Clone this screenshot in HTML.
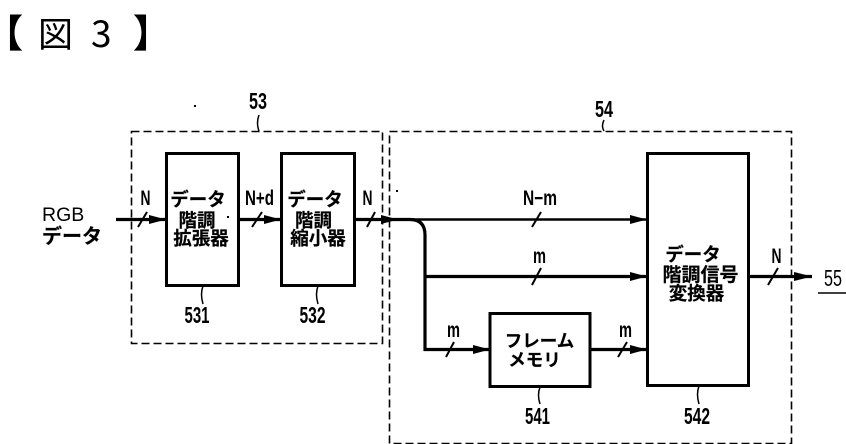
<!DOCTYPE html>
<html><head><meta charset="utf-8"><style>
html,body{margin:0;padding:0;background:#fff;width:846px;height:444px;overflow:hidden}
svg{display:block}
text{fill:#000;font-family:"Liberation Sans","Noto Sans CJK JP",sans-serif}
.j{font-size:18.5px;font-weight:700;text-anchor:middle;font-family:"Noto Sans CJK JP",sans-serif;stroke:#000;stroke-width:.2px}
.l{font-size:21px;font-weight:700;text-anchor:middle}
.n{font-size:23px;font-weight:700;text-anchor:middle}
.h{font-family:"Noto Sans CJK JP",sans-serif}
</style></head><body>
<svg width="846" height="444" viewBox="0 0 846 444" xmlns="http://www.w3.org/2000/svg">
<text class="h" x="-15" y="47" style="font-size:38px;font-weight:900">【</text>
<text class="h" x="38" y="47" style="font-size:35px">図</text>
<text class="h" x="91" y="47" style="font-size:37px">3</text>
<text class="h" x="133" y="47" style="font-size:38px;font-weight:900">】</text>

<g fill="none" stroke="#000">
<rect x="131.5" y="131.5" width="251" height="212" stroke-width="1.6" stroke-dasharray="8 4"/>
<rect x="389.5" y="131.5" width="402" height="312" stroke-width="1.6" stroke-dasharray="8 4"/>
<g stroke-width="3">
<rect x="166.5" y="153.5" width="72" height="132"/>
<rect x="281.5" y="153.5" width="73" height="132"/>
<rect x="647.5" y="153.5" width="101" height="232"/>
<rect x="490" y="313.5" width="100" height="73"/>
</g>
<g stroke-width="3.2">
<path d="M116 219.5H166M238 219.5H281M354 219.5H392"/>
<path d="M392 219.5H410Q425 219.5 425 235V349.5H490" />
<path d="M425 276.5H647"/>
<path d="M590 349.5H647"/>
<path d="M748 276.5H812"/>
</g>
<path d="M410 219.5H647" stroke-width="2.4"/>
<g stroke-width="2">
<path d="M138 227L147 212M252 227L262 212M367 227L375 212M532 227L541 212M532 285L541 268M446 357L454 342M618 357L627 342M768 285L778 268"/>
</g>
<g stroke-width="1.5">
<path d="M259 115Q256 123 259 131M203 286Q200 294 203 304M318 286Q315 294 318 304M604 120Q601 126 604 131M540 387Q537 395 540 404M699 386Q696 394 699 404"/>
<path d="M818 293H846"/>
</g>
</g>
<g fill="#000">
<path d="M149 215L166 219.5L149 224ZM264 215L281 219.5L264 224ZM381 215L398 219.5L381 224ZM630 215L647 219.5L630 224ZM630 272L647 276.5L630 281ZM473 345L490 349.5L473 354ZM630 345L647 349.5L630 354ZM794 272L812 276.5L794 281Z"/>
<rect x="194" y="105" width="2" height="2"/><rect x="227" y="216" width="2" height="2"/><rect x="396" y="190" width="2" height="2"/>
</g>

<text x="42" y="221" style="font-size:19.5px">RGB</text>
<text x="72" y="243" class="j" style="font-size:20px">データ</text>

<text x="145.5" y="205" class="l" textLength="10" lengthAdjust="spacingAndGlyphs">N</text>
<text x="259.5" y="205" class="l" textLength="29" lengthAdjust="spacingAndGlyphs">N+d</text>
<text x="367.5" y="205" class="l" textLength="10" lengthAdjust="spacingAndGlyphs">N</text>
<text x="540" y="205" class="l" textLength="34" lengthAdjust="spacingAndGlyphs">N−m</text>
<text x="539.5" y="263" class="l" textLength="13" lengthAdjust="spacingAndGlyphs">m</text>
<text x="453.5" y="337" class="l" textLength="13" lengthAdjust="spacingAndGlyphs">m</text>
<text x="625.5" y="337" class="l" textLength="13" lengthAdjust="spacingAndGlyphs">m</text>
<text x="776.5" y="263" class="l" textLength="10" lengthAdjust="spacingAndGlyphs">N</text>

<text x="198" y="206" class="j">データ</text>
<text x="197" y="227" class="j">階調</text>
<text x="201" y="245" class="j">拡張器</text>
<text x="315" y="206" class="j">データ</text>
<text x="313.5" y="227" class="j">階調</text>
<text x="318" y="245" class="j">縮小器</text>
<text x="693" y="261" class="j">データ</text>
<text x="700.5" y="281" class="j" style="font-size:19px">階調信号</text>
<text x="696.5" y="300" class="j">変換器</text>
<text x="539.5" y="347" class="j" style="font-size:17.5px">フレーム</text>
<text x="534.5" y="366" class="j" style="font-size:17.5px">メモリ</text>

<text x="258" y="109" class="n" textLength="18" lengthAdjust="spacingAndGlyphs">53</text>
<text x="604" y="117" class="n" textLength="18" lengthAdjust="spacingAndGlyphs">54</text>
<text x="197" y="323" class="n" textLength="25" lengthAdjust="spacingAndGlyphs">531</text>
<text x="312.5" y="323" class="n" textLength="26" lengthAdjust="spacingAndGlyphs">532</text>
<text x="537.5" y="424" class="n" textLength="25" lengthAdjust="spacingAndGlyphs">541</text>
<text x="697" y="424" class="n" textLength="26" lengthAdjust="spacingAndGlyphs">542</text>
<text x="833" y="286" class="n" style="font-weight:400" textLength="18" lengthAdjust="spacingAndGlyphs">55</text>
</svg>
</body></html>
